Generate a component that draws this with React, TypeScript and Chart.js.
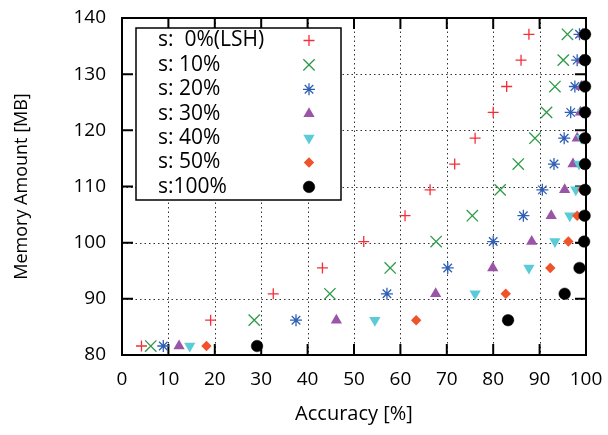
import React, { useEffect, useRef } from 'react';
import { Chart, registerables } from 'chart.js';
import { drawPoint } from 'chart.js/helpers';

Chart.register(...registerables);

const FONT = '"Open Sans", "Noto Sans", "DejaVu Sans", sans-serif';

// Memory amount levels [MB] (shared y values of every series)
const memory = [81.6, 86.2, 90.9, 95.5, 100.2, 104.8, 109.4, 114.0, 118.6, 123.2, 127.8, 132.5, 137.1];

// Accuracy [%] per series
const acc0 = [4.2, 19.1, 32.6, 43.2, 52.1, 61.0, 66.4, 71.7, 76.1, 80.0, 82.9, 86.0, 87.7];
const acc10 = [6.2, 28.5, 44.8, 57.8, 67.7, 75.5, 81.5, 85.4, 89.0, 91.5, 93.3, 95.1, 96.0];
const acc20 = [8.9, 37.5, 57.1, 70.2, 80.0, 86.5, 90.6, 93.1, 95.3, 96.7, 97.6, 98.1, 98.6];
const acc30 = [12.3, 46.2, 67.6, 79.9, 88.3, 92.5, 95.4, 97.2, 98.1, 98.8, 99.0, 99.2, 99.3];
const acc40 = [14.6, 54.5, 76.1, 87.7, 93.3, 96.5, 97.8, 98.5, 99.0, 99.3, 99.5, 99.6, 99.7];
const acc50 = [18.2, 63.4, 82.7, 92.3, 96.2, 98.1, 99.2, 99.5, 99.6, 99.7, 99.7, 99.8, 99.8];
const acc100 = [29.1, 83.2, 95.4, 98.6, 99.6, 99.7, 99.8, 99.8, 99.8, 99.8, 99.8, 99.8, 99.8];

const seriesLabels = ['s:  0%(LSH)', 's: 10%', 's: 20%', 's: 30%', 's: 40%', 's: 50%', 's:100%'];
const seriesValues = [acc0, acc10, acc20, acc30, acc40, acc50, acc100];

const xTicks = [0, 10, 20, 30, 40, 50, 60, 70, 80, 90, 100];
const yTicks = [80, 90, 100, 110, 120, 130, 140];

const styles = [
  { pointStyle: 'cross', radius: 5.5, rotation: 0, borderColor: '#f2303a', backgroundColor: '#f2303a', borderWidth: 1.3 },
  { pointStyle: 'crossRot', radius: 8, rotation: 0, borderColor: '#2e9a48', backgroundColor: '#2e9a48', borderWidth: 1.3 },
  { pointStyle: 'star', radius: 6, rotation: 0, borderColor: '#2f5fb5', backgroundColor: '#2f5fb5', borderWidth: 1.3 },
  { pointStyle: 'triangle', radius: 6.5, rotation: 0, borderColor: '#9b55a8', backgroundColor: '#9b55a8', borderWidth: 0 },
  { pointStyle: 'triangle', radius: 6.5, rotation: 180, borderColor: '#5ccbd8', backgroundColor: '#5ccbd8', borderWidth: 0 },
  { pointStyle: 'rectRot', radius: 5.2, rotation: 0, borderColor: '#f0522a', backgroundColor: '#f0522a', borderWidth: 0 },
  { pointStyle: 'circle', radius: 5.8, rotation: 0, borderColor: '#000', backgroundColor: '#000', borderWidth: 0.5 },
];

const framePlugin = {
  id: 'gnuFrame',
  beforeDatasetsDraw(chart: any) {
    const { ctx, chartArea: a, scales } = chart;
    const xs = scales.x;
    const ys = scales.y;
    ctx.save();
    // dotted grid
    ctx.strokeStyle = '#333';
    ctx.lineWidth = 1;
    ctx.setLineDash([1.5, 3]);
    xTicks.slice(1, -1).forEach((v) => {
      const px = Math.round(xs.getPixelForValue(v)) + 0.5;
      ctx.beginPath();
      ctx.moveTo(px, a.top);
      ctx.lineTo(px, a.bottom);
      ctx.stroke();
    });
    yTicks.slice(1, -1).forEach((v) => {
      const py = Math.round(ys.getPixelForValue(v)) + 0.5;
      ctx.beginPath();
      ctx.moveTo(a.left, py);
      ctx.lineTo(a.right, py);
      ctx.stroke();
    });
    ctx.setLineDash([]);
    // border
    ctx.strokeStyle = '#000';
    ctx.lineWidth = 2;
    ctx.strokeRect(a.left, a.top, a.right - a.left, a.bottom - a.top);
    // inward ticks on all four sides
    const tl = 11;
    xTicks.forEach((v) => {
      const px = xs.getPixelForValue(v);
      ctx.beginPath();
      ctx.moveTo(px, a.bottom);
      ctx.lineTo(px, a.bottom - tl);
      ctx.moveTo(px, a.top);
      ctx.lineTo(px, a.top + tl);
      ctx.stroke();
    });
    yTicks.forEach((v) => {
      const py = ys.getPixelForValue(v);
      ctx.beginPath();
      ctx.moveTo(a.left, py);
      ctx.lineTo(a.left + tl, py);
      ctx.moveTo(a.right, py);
      ctx.lineTo(a.right - tl, py);
      ctx.stroke();
    });
    ctx.restore();
  },
  afterDraw(chart: any) {
    const { ctx, chartArea: a } = chart;
    const bx = a.left + 14;
    const by = a.top + 10;
    const bw = 205;
    const bh = 172;
    ctx.save();
    ctx.fillStyle = '#fff';
    ctx.fillRect(bx, by, bw, bh);
    ctx.strokeStyle = '#000';
    ctx.lineWidth = 1.5;
    ctx.strokeRect(bx, by, bw, bh);
    ctx.font = `21px ${FONT}`;
    ctx.textBaseline = 'middle';
    ctx.textAlign = 'left';
    seriesLabels.forEach((label, i) => {
      const cy = by + 12.5 + i * 24.4;
      ctx.fillStyle = '#000';
      ctx.fillText(label, bx + 22, cy);
      const st = styles[i];
      ctx.fillStyle = st.backgroundColor;
      ctx.strokeStyle = st.borderColor;
      ctx.lineWidth = st.borderWidth;
      drawPoint(ctx, { pointStyle: st.pointStyle, radius: st.radius, rotation: st.rotation, borderWidth: st.borderWidth } as any, bx + 173, cy);
    });
    ctx.restore();
  },
};

export default function App() {
  const ref = useRef<HTMLCanvasElement | null>(null);
  useEffect(() => {
    document.body.style.margin = '0';
    const canvas = ref.current;
    if (!canvas) return;
    const datasets = seriesLabels.map((label, i) => ({
      label,
      data: seriesValues[i].map((x, j) => ({ x, y: memory[j] })),
      pointStyle: styles[i].pointStyle,
      pointRadius: styles[i].radius,
      pointRotation: styles[i].rotation,
      pointBorderWidth: styles[i].borderWidth,
      borderColor: styles[i].borderColor,
      backgroundColor: styles[i].backgroundColor,
      showLine: false,
      clip: false,
      order: 6 - i,
    }));
    const chart = new Chart(canvas, {
      type: 'scatter',
      data: { datasets } as any,
      options: {
        animation: false,
        responsive: false,
        devicePixelRatio: 1,
        layout: { padding: { top: 18, right: 22, left: 0, bottom: 0 } },
        plugins: { legend: { display: false }, tooltip: { enabled: false } },
        scales: {
          x: {
            type: 'linear',
            min: 0,
            max: 100,
            afterBuildTicks: (s: any) => { s.ticks = xTicks.map((v) => ({ value: v })); },
            ticks: { color: '#000', font: { family: FONT, size: 19 }, padding: 13, maxRotation: 0 },
            grid: { display: false, drawTicks: false },
            border: { display: false },
            title: { display: true, text: 'Accuracy [%]', color: '#000', font: { family: FONT, size: 20 }, padding: { top: 0, bottom: 9 } },
            afterFit: (s: any) => { s.height = 80; s.paddingLeft = 0; s.paddingRight = 0; },
          },
          y: {
            type: 'linear',
            min: 80,
            max: 140,
            afterBuildTicks: (s: any) => { s.ticks = yTicks.map((v) => ({ value: v })); },
            ticks: { color: '#000', font: { family: FONT, size: 19 }, padding: 16 },
            grid: { display: false, drawTicks: false },
            border: { display: false },
            title: { display: true, text: 'Memory Amount [MB]', color: '#000', font: { family: FONT, size: 18 }, padding: { top: 11, bottom: 0 } },
            afterFit: (s: any) => { s.width = 122; s.paddingTop = 0; s.paddingBottom = 0; },
          },
        },
      },
      plugins: [framePlugin],
    } as any);
    return () => chart.destroy();
  }, []);
  return (
    <div style={{ width: 608, height: 435 }}>
      <canvas ref={ref} width={608} height={435} style={{ display: 'block' }} />
    </div>
  );
}
